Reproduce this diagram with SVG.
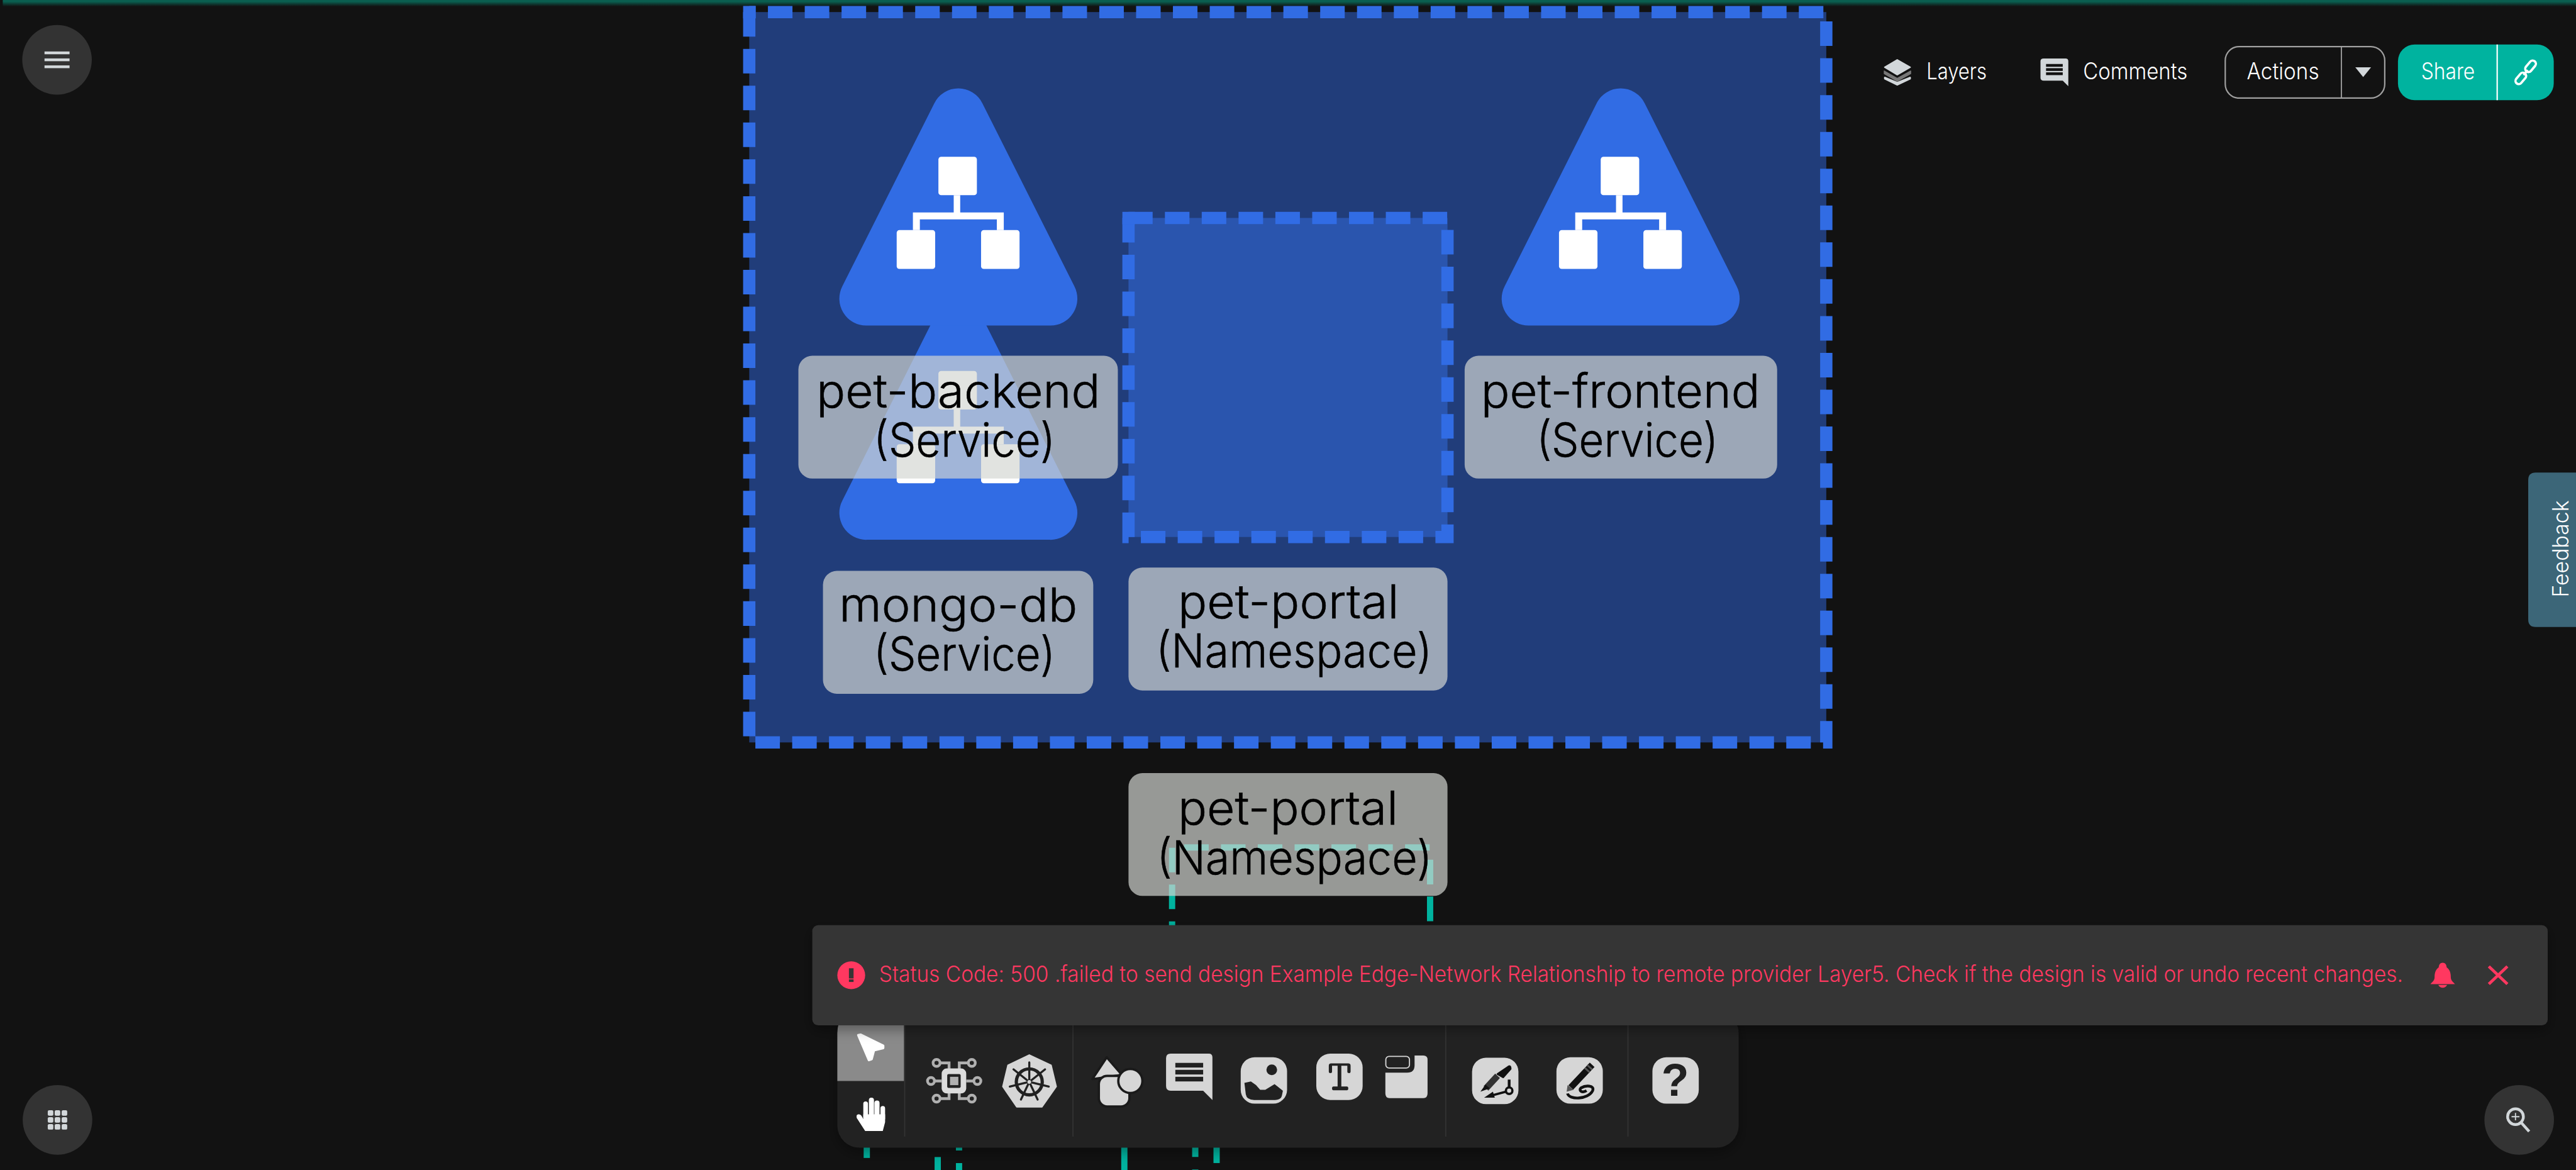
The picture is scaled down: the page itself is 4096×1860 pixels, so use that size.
<svg xmlns="http://www.w3.org/2000/svg" width="4096" height="1860" viewBox="0 0 4096 1860">
<style>
text{font-family:Inter,"Liberation Sans",sans-serif}
.lbl{fill:#000;stroke:#000;stroke-width:.8px;font-size:101px;font-weight:300;text-anchor:middle}
.lbg{fill:rgb(212,214,210);fill-opacity:.69}
.dash{stroke:#316ce4;stroke-width:26.5;stroke-dasharray:52.94 26.47;stroke-linejoin:miter}
.tl{fill:none;stroke:#00b39f;stroke-width:13.5}
.ui{fill:#fff;font-size:49px;font-weight:300}
.ic{fill:#d6d6d6}
.dk{fill:#212121}
.gr{fill:#d2d7da}
</style>
<defs>
<linearGradient id="glow" x1="0" y1="0" x2="0" y2="1"><stop offset="0" stop-color="#0a5f50"/><stop offset=".25" stop-color="#0a5f50"/><stop offset="1" stop-color="#121212"/></linearGradient>
<filter id="sh" x="-5%" y="-20%" width="110%" height="140%"><feDropShadow dx="0" dy="10" stdDeviation="14" flood-color="#000" flood-opacity=".35"/></filter>
<g id="svc">
<path d="M-52,32 A58,58 0 0 1 52,32 L250,426 A58,58 0 0 1 198,511 H-198 A58,58 0 0 1 -250,426 Z" fill="#316ce4"/>
<g fill="#fff">
<rect x="-43" y="147" width="83" height="83" rx="6"/>
<rect x="-133" y="305" width="83" height="84" rx="6"/>
<rect x="49" y="305" width="83" height="84" rx="6"/>
<path d="M-10,230 H4 V267 H98 V305 H83 V282 H-83 V305 H-98 V267 H-10 Z"/>
</g>
</g>
</defs>
<rect width="4096" height="1860" fill="#121212"/>
<g transform="scale(0.73722)">
<rect id="top-glow" x="6" y="0" width="5550" height="14" fill="url(#glow)"/>

<g id="connectors">
<path class="tl" d="M2528,1828 V2100" stroke-dasharray="53 26.4"/>
<path class="tl" d="M2554,1827.5 H3084" stroke-dasharray="53 26.41"/>
<path class="tl" d="M3084.5,1854 V2100" stroke-dasharray="53 26.4"/>
<path class="tl" d="M1869.5,2460 V2497"/>
<path class="tl" d="M2022.5,2495 V2523"/>
<path class="tl" d="M2068.5,2460 V2481 M2068.5,2508 V2523"/>
<path class="tl" d="M2425,2460 V2523"/>
<path class="tl" d="M2578,2460 V2495 M2578,2522 V2523"/>
<path class="tl" d="M2624,2460 V2508"/>
</g>

<g id="ns-outer">
<rect x="1616" y="26" width="2323" height="1575" fill="#213d7a"/>
<path class="dash" fill="none" d="M1616,26 V1601 H3939 V26 H1616"/>
<rect x="1602.8" y="12.8" width="27" height="27" fill="#316ce4"/>
</g>
<g id="ns-inner">
<rect x="2434" y="470" width="688" height="688" fill="#2a55ae"/>
<path class="dash" fill="none" d="M2434,470 V1158 H3122 V470 H2434"/>
<rect x="2420.8" y="456.8" width="27" height="27" fill="#316ce4"/>
</g>
<g id="svc-mongo-db">
<use href="#svc" x="2067" y="653"/>
<rect class="lbg" x="1775" y="1231" width="583" height="265" rx="30"/>
<text class="lbl" x="2067" y="1340" textLength="514" lengthAdjust="spacingAndGlyphs">mongo-db</text>
<text class="lbl" x="2080" y="1446" textLength="392" lengthAdjust="spacingAndGlyphs">(Service)</text>
</g>
<g id="svc-pet-backend">
<use href="#svc" x="2067" y="191"/>
<rect class="lbg" x="1722" y="767" width="689" height="265" rx="30"/>
<text class="lbl" x="2067" y="879" textLength="612" lengthAdjust="spacingAndGlyphs">pet-backend</text>
<text class="lbl" x="2080" y="985" textLength="392" lengthAdjust="spacingAndGlyphs">(Service)</text>
</g>
<g id="svc-pet-frontend">
<use href="#svc" x="3495.5" y="191"/>
<rect class="lbg" x="3159" y="767" width="674" height="265" rx="30"/>
<text class="lbl" x="3495" y="879" textLength="602" lengthAdjust="spacingAndGlyphs">pet-frontend</text>
<text class="lbl" x="3510" y="985" textLength="392" lengthAdjust="spacingAndGlyphs">(Service)</text>
</g>
<g id="lbl-pet-portal-inner">
<rect class="lbg" x="2434" y="1224" width="688" height="265" rx="30"/>
<text class="lbl" x="2779" y="1333" textLength="477" lengthAdjust="spacingAndGlyphs">pet-portal</text>
<text class="lbl" x="2791" y="1439" textLength="596" lengthAdjust="spacingAndGlyphs">(Namespace)</text>
</g>
<g id="lbl-pet-portal-outer">
<rect class="lbg" x="2434" y="1667" width="688" height="265" rx="30"/>
<text class="lbl" x="2778" y="1778" textLength="475" lengthAdjust="spacingAndGlyphs">pet-portal</text>
<text class="lbl" x="2792" y="1885" textLength="594" lengthAdjust="spacingAndGlyphs">(Namespace)</text>
</g>

<g id="menu-btn">
<circle cx="123" cy="129" r="75" fill="#333"/>
<g class="gr"><rect x="96" y="111" width="54" height="6"/><rect x="96" y="126" width="54" height="6"/><rect x="96" y="141" width="54" height="6"/></g>
</g>
<g id="apps-btn">
<circle cx="124" cy="2415" r="75" fill="#333"/>
<g class="gr">
<rect x="103" y="2394" width="12" height="12" rx="3"/><rect x="118" y="2394" width="12" height="12" rx="3"/><rect x="133" y="2394" width="12" height="12" rx="3"/>
<rect x="103" y="2409" width="12" height="12" rx="3"/><rect x="118" y="2409" width="12" height="12" rx="3"/><rect x="133" y="2409" width="12" height="12" rx="3"/>
<rect x="103" y="2424" width="12" height="12" rx="3"/><rect x="118" y="2424" width="12" height="12" rx="3"/><rect x="133" y="2424" width="12" height="12" rx="3"/>
</g>
</g>
<g id="zoom-btn">
<circle cx="5433.5" cy="2415" r="75" fill="#333"/>
<circle cx="5425.5" cy="2408" r="17" fill="none" stroke="#d2d7da" stroke-width="6"/>
<path d="M5437,2420 L5455,2440" stroke="#d2d7da" stroke-width="6"/>
<path d="M5417,2408 H5434 M5425.5,2400 V2416" stroke="#d2d7da" stroke-width="2.5"/>
</g>

<g id="layers">
<g class="gr" stroke="#d2d7da" stroke-width="3" stroke-linejoin="round">
<path d="M4092,129 L4120,145 L4092,161 L4065,145 Z"/>
<path d="M4065,167 L4092,178 L4120,167 L4120,170 L4092,183 L4065,170 Z"/>
</g>
<path d="M4064,153 L4092,169 L4121,153 L4121,159 L4092,175 L4064,159 Z" fill="#777" stroke="#777" stroke-width="2" stroke-linejoin="round"/>
<text class="ui" x="4155" y="171" textLength="130" lengthAdjust="spacingAndGlyphs">Layers</text>
</g>
<g id="comments">
<path class="gr" d="M4408,126 H4455 Q4461,126 4461,132 V186 L4449,174 H4408 Q4401,174 4401,168 V132 Q4401,126 4408,126 Z"/>
<g fill="#121212"><rect x="4413" y="138" width="36" height="6"/><rect x="4413" y="147" width="36" height="6"/><rect x="4413" y="156" width="36" height="6"/></g>
<text class="ui" x="4493" y="171" textLength="225" lengthAdjust="spacingAndGlyphs">Comments</text>
</g>
<g id="actions">
<rect x="4799.5" y="100.5" width="344" height="111" rx="30" fill="none" stroke="#a0a0a0" stroke-width="3"/>
<path d="M5050,101 V211" stroke="#a0a0a0" stroke-width="2.5"/>
<text class="ui" x="4846" y="171" textLength="156" lengthAdjust="spacingAndGlyphs">Actions</text>
<path class="gr" d="M5080,145 H5114 L5097,166 Z"/>
</g>
<g id="share">
<rect x="5172" y="96" width="336" height="120" rx="36" fill="#00b39f"/>
<path d="M5386,96 V216" stroke="#fff" stroke-width="3"/>
<text class="ui" x="5222" y="171" textLength="116" lengthAdjust="spacingAndGlyphs">Share</text>
<g fill="none" stroke="#fff" stroke-width="5">
<rect x="5444" y="136" width="28" height="14" rx="7" transform="rotate(-50 5458 143)"/>
<rect x="5423" y="162" width="28" height="14" rx="7" transform="rotate(-50 5437 169)"/>
<path d="M5443,162 L5452,151"/>
</g>
</g>
<g id="feedback">
<path d="M5556,1019 H5469 Q5453,1019 5453,1035 V1336 Q5453,1352 5469,1352 H5556 Z" fill="#3c6678"/>
<text class="ui" transform="translate(5540,1288) rotate(-90)" textLength="209" lengthAdjust="spacingAndGlyphs" fill="#e8eef0" style="font-size:47px">Feedback</text>
</g>

<g id="toolbar">
<rect x="1806" y="2180" width="1944" height="295" rx="48" fill="#212121" filter="url(#sh)"/>
<path d="M1806,2331 V2228 Q1806,2180 1854,2180 H1950 V2331 Z" fill="#8a8a8a"/>
<g fill="#333"><rect x="1950" y="2180" width="2.5" height="271"/><rect x="2313" y="2180" width="2.5" height="271"/><rect x="3117" y="2180" width="2.5" height="271"/><rect x="3510" y="2180" width="2.5" height="271"/></g>
<g id="tool-cursor"><path d="M1851,2232 L1856,2231 L1905,2255 L1905,2260 L1885,2265 L1880,2284 L1874,2286 Z" fill="#fff" stroke="#fff" stroke-width="5" stroke-linejoin="round"/></g>
<g id="tool-hand" fill="#fff">
<rect x="1862" y="2375" width="10" height="40" rx="5"/><rect x="1874" y="2367" width="11" height="48" rx="5.500"/><rect x="1886" y="2373" width="11" height="42" rx="5.500"/><rect x="1899" y="2385" width="10" height="32" rx="5"/>
<path d="M1862,2403 H1909 V2420 L1904,2439 H1866 L1848,2411 Q1846,2404 1851,2403 Q1855,2402 1858,2406 L1862,2413 Z"/>
</g>
<g id="tool-chip">
<g fill="none" stroke="#b0b0b0" stroke-width="6">
<path d="M2017,2331 H2031 M2084,2331 H2099 M2029,2292 H2047 V2306 M2087,2292 H2069 V2306 M2029,2369 H2047 V2356 M2087,2369 H2069 V2356"/>
<circle cx="2008" cy="2331" r="7.500"/><circle cx="2108" cy="2331" r="7.500"/><circle cx="2020" cy="2292" r="7.500"/><circle cx="2096" cy="2292" r="7.500"/><circle cx="2020" cy="2369" r="7.500"/><circle cx="2096" cy="2369" r="7.500"/>
</g>
<rect x="2031" y="2304" width="53" height="54" rx="11" fill="#dcdcdc"/>
<rect x="2043" y="2316" width="29" height="30" rx="3" fill="#212121"/>
<rect x="2049" y="2322" width="18" height="18" fill="#b0b0b0"/>
</g>
<g id="tool-k8s">
<path class="ic" d="M2220,2275 L2267,2297 L2278,2343 L2247,2387 H2193 L2163,2343 L2174,2297 Z" stroke="#d6d6d6" stroke-width="3" stroke-linejoin="round"/>
<circle cx="2220" cy="2333" r="28" fill="none" stroke="#212121" stroke-width="7"/>
<path d="M2220,2333 V2291 M2220,2333 L2254,2306 M2220,2333 L2262,2343 M2220,2333 L2238,2371 M2220,2333 L2202,2371 M2220,2333 L2178,2343 M2220,2333 L2186,2306" stroke="#212121" stroke-width="4.500" stroke-linecap="round"/>
<circle cx="2220" cy="2333" r="4" class="ic"/>
</g>
<g id="tool-shapes" stroke="#1a1a1a" stroke-width="5" stroke-linejoin="round">
<path class="ic" d="M2387,2280 L2420,2318 L2356,2327 Z"/>
<rect class="ic" x="2370" y="2320" width="66" height="66" rx="18"/>
<circle class="ic" cx="2438" cy="2331" r="26"/>
</g>
<g id="tool-comment">
<path class="ic" d="M2525,2272 H2607 Q2615,2272 2615,2280 V2372 L2595,2352 H2525 Q2515,2352 2515,2342 V2282 Q2515,2272 2525,2272 Z"/>
<g class="dk"><rect x="2535" y="2292" width="60" height="10"/><rect x="2535" y="2307" width="60" height="10"/><rect x="2535" y="2322" width="60" height="10"/></g>
</g>
<g id="tool-image">
<rect class="ic" x="2676" y="2280" width="100" height="100" rx="30"/>
<circle cx="2743" cy="2307" r="11.500" class="dk"/>
<path class="dk" d="M2684,2335 L2698,2332 L2709,2340 L2718,2350 L2729,2350 L2749,2338 L2767,2352 L2765,2362 Q2763,2372 2750,2372 H2705 Q2689,2372 2687,2360 Z"/>
</g>
<g id="tool-text">
<rect class="ic" x="2839" y="2272" width="100" height="100" rx="30"/>
<path class="dk" d="M2871,2293 H2908 Q2913,2293 2913,2298 V2311 Q2913,2314 2910,2314 Q2906,2314 2906,2311 V2298 H2893 V2343 H2905 Q2908,2343 2908,2347 Q2908,2351 2905,2351 H2876 Q2873,2351 2873,2347 Q2873,2343 2876,2343 H2885 V2298 H2873 V2311 Q2873,2314 2869,2314 Q2866,2314 2866,2311 V2298 Q2866,2293 2871,2293 Z"/>
</g>
<g id="tool-note">
<path class="ic" d="M3051,2276 H3070 Q3079,2276 3079,2285 V2358 Q3079,2368 3070,2368 H2997 Q2988,2368 2988,2358 V2313 H3035 Q3051,2313 3051,2297 Z"/>
<rect x="2989" y="2278" width="51" height="25" rx="7" fill="none" stroke="#d6d6d6" stroke-width="2.500"/>
</g>
<g id="tool-pen">
<rect class="ic" x="3175" y="2281" width="100" height="100" rx="30"/>
<path d="M3252,2301 Q3258,2296 3258,2305 L3242,2323 L3230,2316 Z" fill="#111" stroke="#111" stroke-width="4" stroke-linejoin="round"/>
<path d="M3230,2320 L3205,2347" stroke="#333" stroke-width="14"/>
<path d="M3204,2339 L3213,2347 L3193,2354 Z" fill="#111"/>
<path d="M3255,2328 V2345" stroke="#111" stroke-width="6"/>
<circle cx="3255" cy="2352" r="7" fill="#d6d6d6" stroke="#111" stroke-width="5"/>
<path d="M3248,2354 L3215,2363" stroke="#111" stroke-width="5"/>
<path d="M3201,2367 L3220,2354 L3224,2367 Z" fill="#111"/>
</g>
<g id="tool-scribble">
<rect class="ic" x="3357" y="2280" width="100" height="100" rx="30"/>
<path d="M3434,2296 L3388,2345" stroke="#111" stroke-width="14"/>
<path d="M3430,2300 L3421,2310" stroke="#555" stroke-width="14" stroke-dasharray="4 4" />
<path d="M3381,2340 L3394,2350 L3379,2354 Z" fill="#555"/>
<path d="M3381,2358 C3384,2372 3425,2372 3435,2352 C3440,2340 3420,2340 3410,2346 C3404,2351 3412,2358 3422,2352" fill="none" stroke="#111" stroke-width="6"/>
</g>
<g id="tool-help">
<rect class="ic" x="3564" y="2280" width="100" height="100" rx="30"/>
<text x="3613" y="2363" text-anchor="middle" style="font-family:'Liberation Sans',sans-serif;font-weight:700;font-size:97px" fill="#212121">?</text>
</g>
</g>

<g id="banner">
<rect x="1752" y="1995" width="3743" height="216" rx="13" fill="#353535" filter="url(#sh)"/>
<circle cx="1836" cy="2103" r="30" fill="#ff3860"/>
<rect x="1831" y="2088" width="10" height="22" fill="#353535"/><rect x="1831" y="2112" width="10" height="5.500" fill="#353535"/>
<text x="1896" y="2118" textLength="3287" lengthAdjust="spacingAndGlyphs" style="font-size:48px;font-weight:300" fill="#ff3860">Status Code: 500 .failed to send design Example Edge-Network Relationship to remote provider Layer5. Check if the design is valid or undo recent changes.</text>
<path fill="#ff3860" d="M5268.500,2076 C5275,2076 5277,2082 5277,2086 C5285,2092 5286,2100 5286,2108 C5286,2114 5291,2118 5295,2122 H5242 C5246,2118 5251,2114 5251,2108 C5251,2100 5252,2092 5260,2086 C5260,2082 5262,2076 5268.500,2076 Z M5259,2124 H5278 Q5275,2130 5268.500,2130 Q5262,2130 5259,2124 Z"/>
<path d="M5368,2084 L5408,2122 M5408,2084 L5368,2122" stroke="#ff3860" stroke-width="6.500"/>
</g>
</g>
</svg>
